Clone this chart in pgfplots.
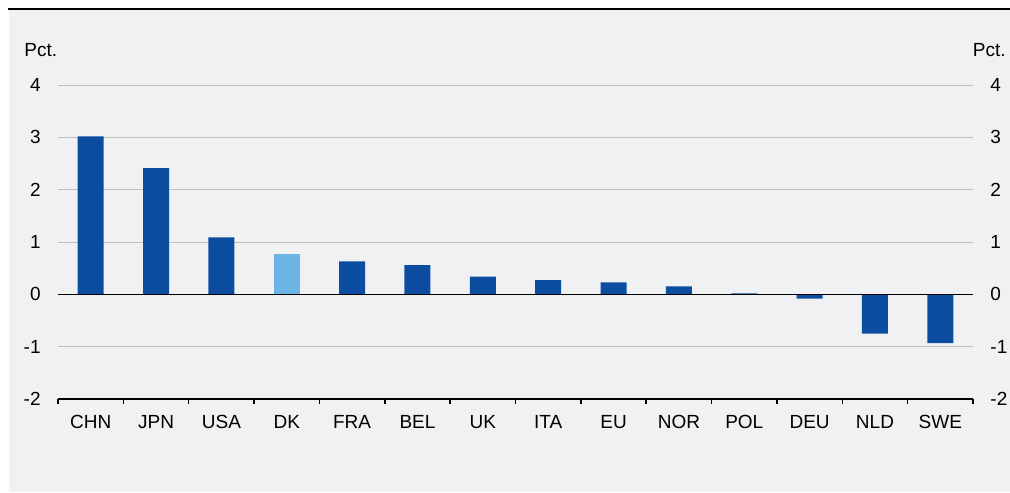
\documentclass[border=0pt]{standalone}
\usepackage{pgfplots}
\pgfplotsset{compat=1.18}
\usepackage{fontspec}
\setmainfont{Liberation Sans}
\definecolor{bgc}{RGB}{240,241,243}
\definecolor{dblue}{RGB}{12,77,162}
\definecolor{lblue}{RGB}{108,180,228}
\definecolor{gridc}{RGB}{192,192,192}
\begin{document}
\begin{tikzpicture}
\path[use as bounding box] (0,0) rectangle (505pt,246pt);
\fill[white] (0,0) rectangle (505pt,246pt);
\fill[bgc] (4.5pt,0) rectangle (505pt,241pt);
\draw[black,line width=1pt] (4pt,241.5pt) -- (505pt,241.5pt);
\begin{axis}[
  at={(29pt,46.5pt)}, anchor=south west,
  scale only axis, width=457.5pt, height=157pt,
  xmin=-0.5, xmax=13.5, ymin=-2, ymax=4,
  axis x line*=bottom, axis y line*=left,
  axis line style={black, line width=0.75pt},
  y axis line style={draw=none},
  xtick={0,...,13},
  xticklabels={CHN,JPN,USA,DK,FRA,BEL,UK,ITA,EU,NOR,POL,DEU,NLD,SWE},
  major tick length=0pt,
  major x tick style={draw=none},
  minor xtick={-0.5,0.5,...,13.5},
  minor x tick style={black, line width=0.75pt},
  minor tick length=2.5pt,
  tick align=outside,
  xticklabel style={anchor=north, inner sep=0pt},
  xticklabel shift=8pt,
  ytick={-2,-1,0,1,2,3,4},
  yticklabels={-2,-1,0,1,2,3,4},
  yticklabel style={anchor=east, inner sep=0pt},
  yticklabel shift=8.5pt,
  major y tick style={draw=none},
  ymajorgrids, grid style={gridc, line width=0.5pt},
  tick label style={font=\fontsize{9.5}{11}\selectfont},
  ybar, bar width=13pt, bar shift=0pt,
  clip=false,
]
\addplot[fill=dblue, draw=none] coordinates {
 (0,3.02) (1,2.41) (2,1.09) (4,0.63) (5,0.56) (6,0.34) (7,0.27)
 (8,0.23) (9,0.15) (10,0.02) (11,-0.08) (12,-0.75) (13,-0.93)};
\addplot[fill=lblue, draw=none] coordinates {(3,0.77)};
\draw[black, line width=0.75pt] (axis cs:-0.5,0) -- (axis cs:13.5,0);
\end{axis}
\begin{axis}[
  at={(29pt,46.5pt)}, anchor=south west,
  scale only axis, width=457.5pt, height=157pt,
  xmin=-0.5, xmax=13.5, ymin=-2, ymax=4,
  axis x line=none, axis y line*=right,
  y axis line style={draw=none},
  xtick=\empty,
  ytick={-2,-1,0,1,2,3,4},
  yticklabels={-2,-1,0,1,2,3,4},
  major tick length=0pt,
  yticklabel style={anchor=west, inner sep=0pt},
  yticklabel shift=8.5pt,
  major y tick style={draw=none},
  tick label style={font=\fontsize{9.5}{11}\selectfont},
]
\end{axis}
\node[anchor=base west, inner sep=0pt, font=\fontsize{9.5}{11}\selectfont] at (12pt,217.5pt) {Pct.};
\node[anchor=base east, inner sep=0pt, font=\fontsize{9.5}{11}\selectfont] at (503pt,217.5pt) {Pct.};
\end{tikzpicture}
\end{document}
